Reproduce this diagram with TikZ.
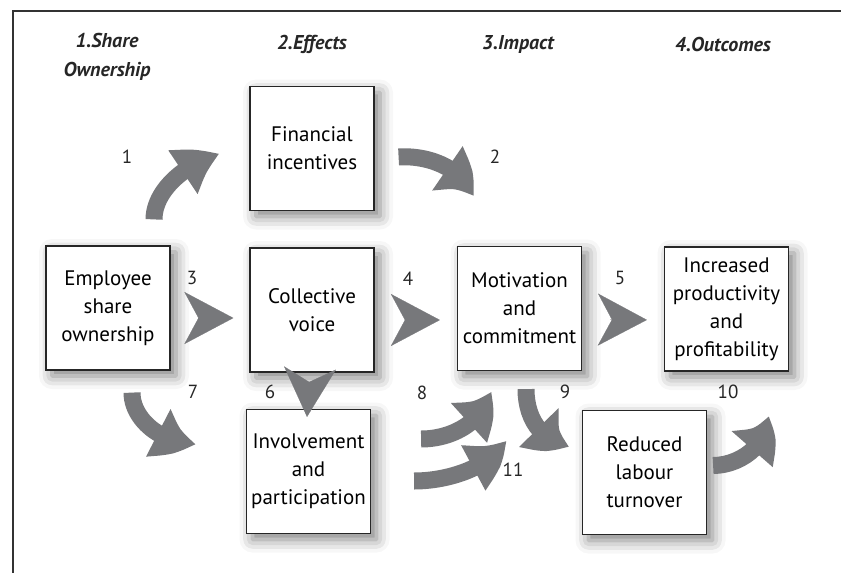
\documentclass[tikz,border=0pt]{standalone}
\usepackage{fontspec}
\setmainfont{PT Sans}
\usetikzlibrary{arrows.meta,bending,calc,shadows.blur}
\definecolor{arr}{HTML}{77787B}
\begin{document}
\begin{tikzpicture}[x=1pt,y=-1pt,
  box/.style={draw=black!85, line width=1.2pt, fill=white, minimum width=124pt, minimum height=124pt,
    inner sep=2pt, align=center, font=\fontsize{21}{28}\selectfont,
    blur shadow={shadow xshift=6pt, shadow yshift=-6pt, shadow blur radius=13pt, shadow opacity=50}},
  hdr/.style={font=\fontsize{20}{29}\selectfont\bfseries\itshape, align=center, text=black!85},
  num/.style={font=\fontsize{19}{19}\selectfont, text=black!85},
  bigarr/.style={draw=arr, line width=17pt, -{Triangle[length=40pt,width=50pt,bend]}},
  chev/.style={draw=arr, fill=arr, line width=0.2pt, -{Stealth[length=49pt,width=52pt,inset=14pt]}}
]
\useasboundingbox (0,0) rectangle (841,573);
\draw[line width=2pt, black!80] (13,573) -- (13,11) -- (841,11);

% headers
\node[hdr] (h1) at (107,57) {1.Share\\Ownership};
\node[hdr] (h2) at (312,44) {2.Effects};
\node[hdr] (h3) at (518,44) {3.Impact};
\node[hdr] (h4) at (723,44) {4.Outcomes};

% boxes
\node[box] (fin) at (312,148.5) {Financial\\incentives};
\node[box] (emp) at (108,308) {Employee\\share\\ownership};
\node[box] (cv)  at (312,310) {Collective\\voice};
\node[box] (inv) at (308.5,471.5) {Involvement\\and\\participation};
\node[box] (mot) at (519.5,308.5) {Motivation\\and\\commitment};
\node[box] (inc) at (726.5,309) {Increased\\productivity\\and\\profitability};
\node[box] (red) at (644.5,472.5) {Reduced\\labour\\turnover};

% curved block arrows
\draw[bigarr] ($(emp.north)+(46,-26)$) .. controls +(0,-30) and +(-32,8) .. ($(fin.west)+(-30,6)$);
\draw[bigarr] ($(fin.east)+(24,8.5)$) .. controls +(28,-2) and +(-10,-30) .. ($(mot.north)+(-47,-49)$);
\draw[bigarr] ($(emp.south)+(24,22)$) .. controls +(0,28) and +(-32,2) .. ($(inv.west)+(-50,-28.5)$);
\draw[bigarr] ($(inv.east)+(50,-32.5)$) .. controls +(32,0) and +(-6,30) .. ($(mot.south)+(-29.5,20)$);
\draw[bigarr] ($(inv.east)+(43,9.5)$) .. controls +(36,0) and +(-12,26) .. ($(red.west)+(-77,-32.5)$);
\draw[bigarr] ($(mot.south)+(6.5,18)$) .. controls +(0,28) and +(-30,-4) .. ($(red.west)+(-12,-27)$);
\draw[bigarr] ($(red.east)+(6,-7)$) .. controls +(26,0) and +(2,30) .. ($(inc.south)+(40.5,44)$);

% straight chevron arrows
\draw[chev, shorten <=29pt, shorten >=16pt] ($(emp.east)+(0,10)$) -- ($(cv.west)+(0,8)$);
\draw[chev, shorten <=30pt, shorten >=17pt] ($(cv.east)+(0,10)$) -- ($(mot.west)+(0,11.5)$);
\draw[chev, shorten <=28pt, shorten >=17pt] ($(mot.east)+(0,11)$) -- ($(inc.west)+(0,11)$);
\draw[chev] ($(cv.south)+(-3,12)$) -- ($(inv.north)+(-1.5,8)$);

% numbers
\node[num] (n1) at (127,157) {1};
\node[num] (n2) at (495,157) {2};
\node[num] (n3) at (192,278) {3};
\node[num] (n4) at (408,279) {4};
\node[num] (n5) at (620,278) {5};
\node[num] (n6) at (270,392) {6};
\node[num] (n7) at (193,392) {7};
\node[num] (n8) at (422,393) {8};
\node[num] (n9) at (565,392) {9};
\node[num] (n10) at (728,392) {10};
\node[num] (n11) at (513,470) {11};
\end{tikzpicture}
\end{document}
